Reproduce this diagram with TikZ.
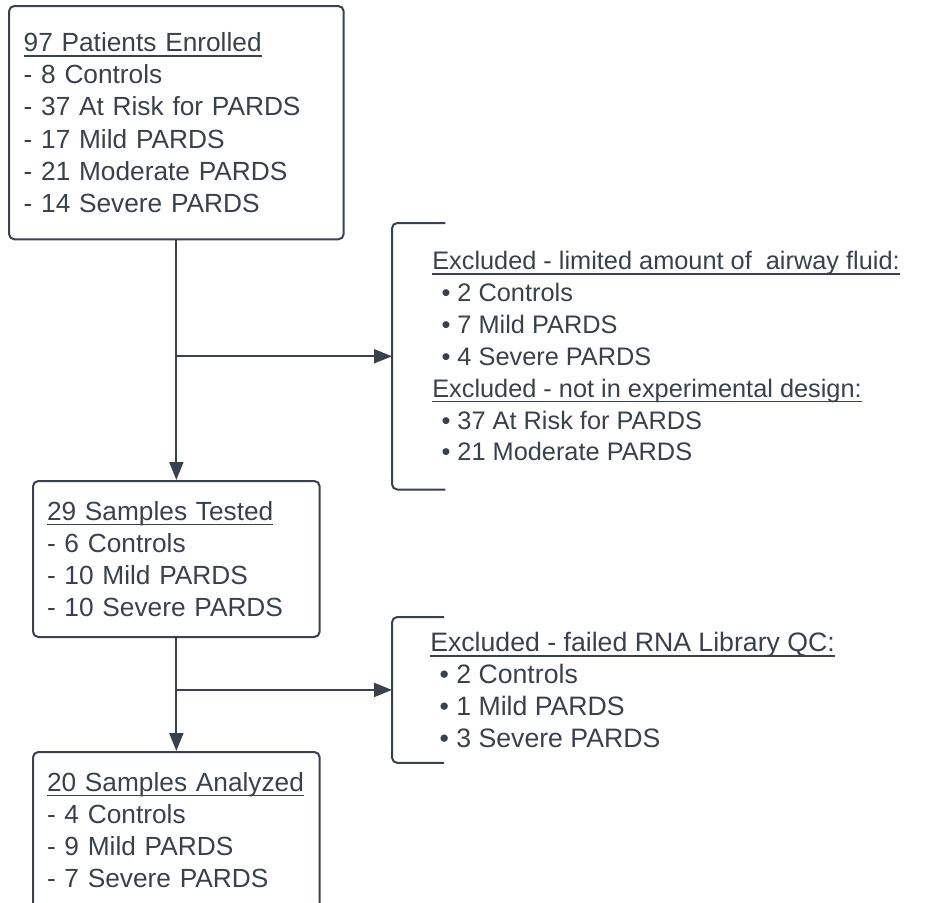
\documentclass[tikz,border=0pt]{standalone}
\usepackage{fontspec}
\setmainfont{Liberation Sans}
\usepackage{tikz}
\usetikzlibrary{arrows.meta}

\definecolor{ink}{HTML}{3A414A}
\newsavebox{\ulbox}
\newcommand{\uln}[1]{\sbox{\ulbox}{#1}\rlap{\vrule height -2.5pt depth 3.6pt width \wd\ulbox}\usebox{\ulbox}}
\newcommand{\bul}[1]{\hspace*{7pt}\textbullet\ #1}

\tikzset{
  box/.style={draw=ink, line width=1.5pt, rounded corners=4pt, anchor=north west,
    align=left, inner ysep=0pt, text=ink, font=\fontsize{19.7}{24.1}\selectfont},
  excl/.style={anchor=north west, align=left, inner xsep=30pt, inner ysep=0pt,
    text=ink, font=\fontsize{19}{23.9}\selectfont},
  arr/.style={draw=ink, line width=1.5pt, -{Triangle[length=13.5pt,width=10.5pt]}},
  brace/.style={draw=ink, line width=1.5pt, rounded corners=4pt}
}

\begin{document}
\begin{tikzpicture}[x=0.75pt,y=-0.75pt]
  \clip (0,0) rectangle (928,903);

  \node[box, text width=229pt, inner xsep=11pt, minimum height=175pt] (Enrolled) at (8,5)
    {\uln{97 Patients Enrolled}\\- 8 Controls\\- 37 At Risk for PARDS\\- 17 Mild PARDS\\- 21 Moderate PARDS\\- 14 Severe PARDS};
  \node[box, text width=194pt, inner xsep=10.5pt, minimum height=117pt] (Tested) at (32,480)
    {\uln{29 Samples Tested}\\- 6 Controls\\- 10 Mild PARDS\\- 10 Severe PARDS};
  \node[box, text width=194pt, inner xsep=10.5pt, minimum height=117pt] (Analyzed) at (32,751)
    {\uln{20 Samples Analyzed}\\- 4 Controls\\- 9 Mild PARDS\\- 7 Severe PARDS};

  \node[excl, minimum height=199.5pt] (ExclFluid) at (392,223)
    {\uln{Excluded - limited amount of\ \ airway fluid:}\\\bul{2 Controls}\\\bul{7 Mild PARDS}\\\bul{4 Severe PARDS}\\
     \uln{Excluded - not in experimental design:}\\\bul{37 At Risk for PARDS}\\\bul{21 Moderate PARDS}};
  \node[excl, inner xsep=28.5pt, font=\fontsize{20}{23.8}\selectfont, minimum height=109pt] (ExclQC) at (392,617)
    {\uln{Excluded - failed RNA Library QC:}\\\bul{2 Controls}\\\bul{1 Mild PARDS}\\\bul{3 Severe PARDS}};

  \draw[brace] ([xshift=40pt]ExclFluid.north west) -- (ExclFluid.north west) -- (ExclFluid.south west) -- ([xshift=40pt]ExclFluid.south west);
  \draw[brace] ([xshift=39pt]ExclQC.north west) -- (ExclQC.north west) -- (ExclQC.south west) -- ([xshift=39pt]ExclQC.south west);

  \draw[arr] (Enrolled.south) -- (Tested.north);
  \draw[arr] (Enrolled.south |- ExclFluid.west) -- (ExclFluid.west);
  \draw[arr] (Tested.south) -- (Analyzed.north);
  \draw[arr] (Tested.south |- ExclQC.west) -- (ExclQC.west);

\end{tikzpicture}
\end{document}
